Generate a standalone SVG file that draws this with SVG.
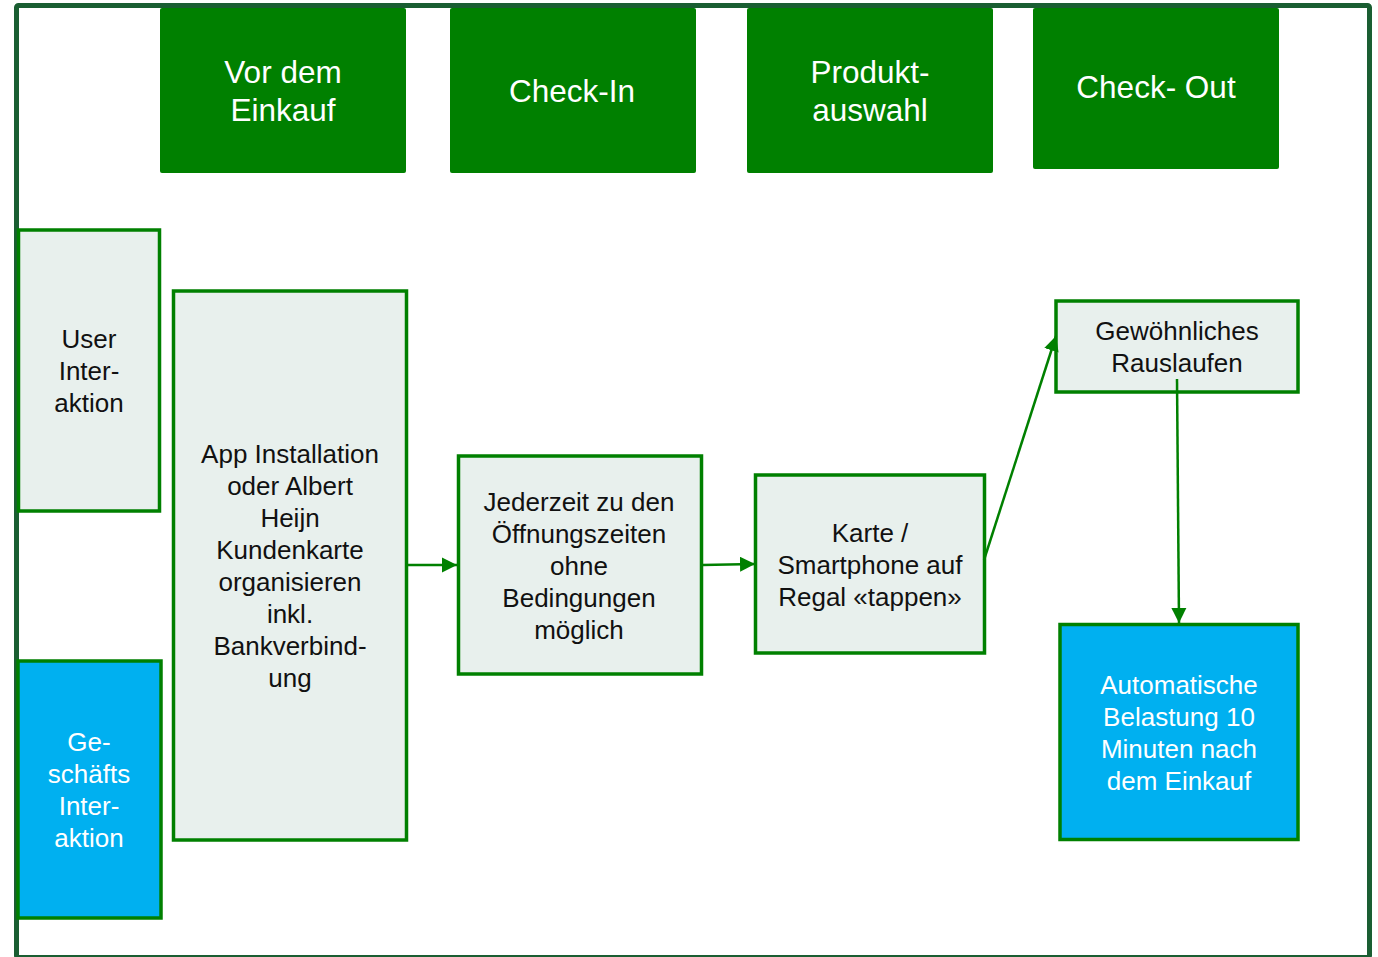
<svg xmlns="http://www.w3.org/2000/svg" width="1378" height="957" viewBox="0 0 1378 957">
<style>
.hdr{fill:#008000}
.ht{font-family:"Liberation Sans",Arial,sans-serif;font-size:31.5px;fill:#ffffff;text-anchor:middle}
.gb{fill:#e8f0ed;stroke:#008000;stroke-width:3.5}
.bb{fill:#00b0f0;stroke:#008000;stroke-width:3.5}
.t{font-family:"Liberation Sans",Arial,sans-serif;font-size:26px;fill:#111111;text-anchor:middle}
.tw{font-family:"Liberation Sans",Arial,sans-serif;font-size:26px;fill:#ffffff;text-anchor:middle}
.c{fill:none;stroke:#008000;stroke-width:2.5}
</style>
<defs>
<marker id="ah" viewBox="0 0 10 10" refX="10" refY="5" markerWidth="6" markerHeight="6.2" markerUnits="strokeWidth" orient="auto">
<path d="M0,0 L10,5 L0,10 Z" fill="#008000"/>
</marker>
</defs>
<rect x="0" y="0" width="1378" height="957" fill="#ffffff"/>
<rect id="frame" x="16.5" y="5.5" width="1353" height="952" fill="#ffffff" stroke="#1a5e32" stroke-width="5" rx="2"/>

<g id="h1"><rect class="hdr" x="160" y="8" width="246" height="165" rx="2"/>
<text class="ht" x="283" y="83">Vor dem</text><text class="ht" x="283" y="121">Einkauf</text></g>
<g id="h2"><rect class="hdr" x="450" y="8" width="246" height="165" rx="2"/>
<text class="ht" x="572" y="102">Check-In</text></g>
<g id="h3"><rect class="hdr" x="747" y="8" width="246" height="165" rx="2"/>
<text class="ht" x="870" y="83">Produkt-</text><text class="ht" x="870" y="121">auswahl</text></g>
<g id="h4"><rect class="hdr" x="1033" y="8" width="246" height="161" rx="2"/>
<text class="ht" x="1156" y="98">Check- Out</text></g>

<g id="user"><rect class="gb" x="18.5" y="230" width="141" height="281"/>
<text class="t" x="89" y="348">User</text><text class="t" x="89" y="380">Inter-</text><text class="t" x="89" y="412">aktion</text></g>

<g id="geschaeft"><rect class="bb" x="18" y="661" width="143" height="257"/>
<text class="tw" x="89" y="751">Ge-</text><text class="tw" x="89" y="783">schäfts</text><text class="tw" x="89" y="815">Inter-</text><text class="tw" x="89" y="847">aktion</text></g>

<g id="app"><rect class="gb" x="173.5" y="291" width="233" height="549"/>
<text class="t" x="290" y="463">App Installation</text>
<text class="t" x="290" y="495">oder Albert</text>
<text class="t" x="290" y="527">Heijn</text>
<text class="t" x="290" y="559">Kundenkarte</text>
<text class="t" x="290" y="591">organisieren</text>
<text class="t" x="290" y="623">inkl.</text>
<text class="t" x="290" y="655">Bankverbind-</text>
<text class="t" x="290" y="687">ung</text></g>

<g id="jederzeit"><rect class="gb" x="458.5" y="456" width="243" height="218"/>
<text class="t" x="579" y="511">Jederzeit zu den</text>
<text class="t" x="579" y="543">Öffnungszeiten</text>
<text class="t" x="579" y="575">ohne</text>
<text class="t" x="579" y="607">Bedingungen</text>
<text class="t" x="579" y="639">möglich</text></g>

<g id="karte"><rect class="gb" x="755.5" y="475" width="229" height="178"/>
<text class="t" x="870" y="542">Karte /</text>
<text class="t" x="870" y="574">Smartphone auf</text>
<text class="t" x="870" y="606">Regal «tappen»</text></g>

<g id="gewoehnlich"><rect class="gb" x="1056" y="301" width="242" height="91"/>
<text class="t" x="1177" y="340">Gewöhnliches</text>
<text class="t" x="1177" y="372">Rauslaufen</text></g>

<g id="auto"><rect class="bb" x="1060" y="624.5" width="238" height="215"/>
<text class="tw" x="1179" y="694">Automatische</text>
<text class="tw" x="1179" y="726">Belastung 10</text>
<text class="tw" x="1179" y="758">Minuten nach</text>
<text class="tw" x="1179" y="790">dem Einkauf</text></g>

<g id="connectors">
<line class="c" x1="407" y1="565" x2="457" y2="565" marker-end="url(#ah)"/>
<line class="c" x1="702" y1="565" x2="755" y2="564" marker-end="url(#ah)"/>
<line class="c" x1="984" y1="560" x2="1056" y2="336" marker-end="url(#ah)"/>
<line class="c" x1="1177" y1="379" x2="1179" y2="623" marker-end="url(#ah)"/>
</g>
</svg>
